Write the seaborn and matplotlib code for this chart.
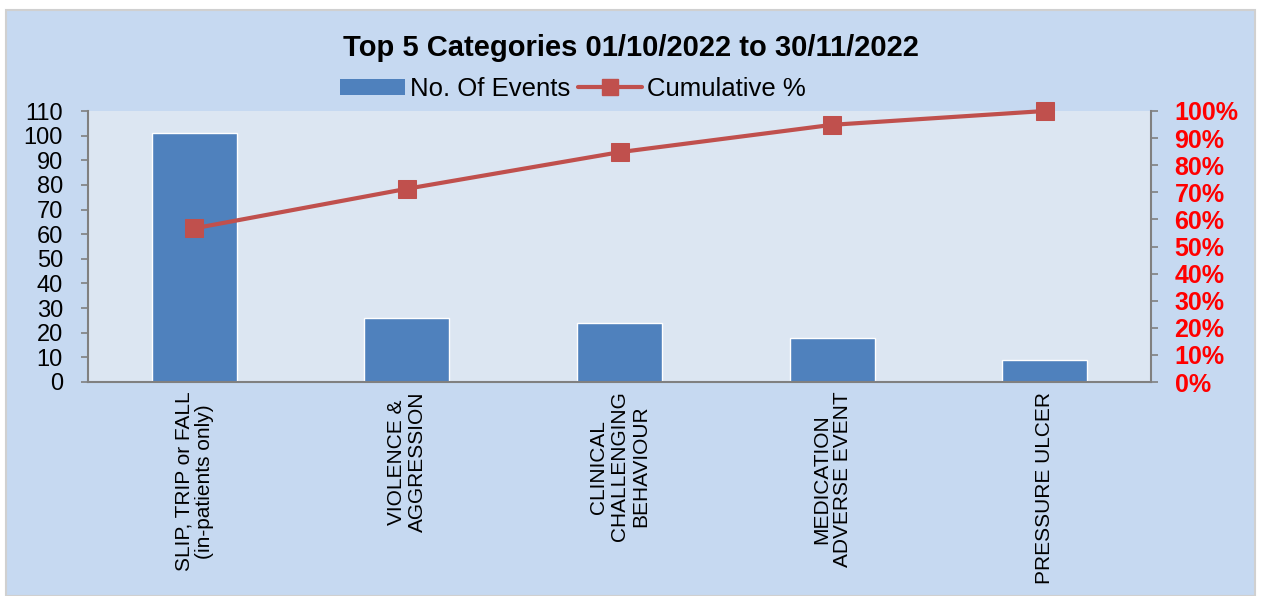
import matplotlib
matplotlib.use("Agg")
import matplotlib.pyplot as plt
import seaborn as sns
import pandas as pd
from matplotlib.patches import Rectangle
from matplotlib.lines import Line2D
from matplotlib.patches import Patch

categories = ["SLIP, TRIP or FALL\n(in-patients only)", "VIOLENCE &\nAGGRESSION",
              "CLINICAL\nCHALLENGING\nBEHAVIOUR", "MEDICATION\nADVERSE EVENT", "PRESSURE ULCER"]
events = [101, 26, 24, 18, 9]
cumulative_pct = [56.7, 71.3, 84.8, 94.9, 100.0]
left_ticks = list(range(0, 111, 10))
right_ticks = list(range(0, 101, 10))
title = "Top 5 Categories 01/10/2022 to 30/11/2022"

sns.set_theme(style="white")
plt.rcParams['font.family'] = ['Liberation Sans', 'DejaVu Sans']
plt.rcParams['text.color'] = 'black'

df = pd.DataFrame({"cat": categories, "events": events, "cum": cumulative_pct})

W, H = 1262, 596
fig = plt.figure(figsize=(W / 100, H / 100), dpi=100)
fig.patch.set_facecolor("white")
fig.patches.append(Rectangle((6 / W, 0), (1255 - 6) / W, (H - 10) / H, transform=fig.transFigure,
                             facecolor="#C6D9F1", edgecolor="#D0D0D0", linewidth=1.5, zorder=-10))

ax = fig.add_axes([88 / W, 1 - 382 / H, (1151 - 88) / W, (382 - 111) / H])
ax.set_facecolor("#DCE6F2")
sns.barplot(data=df, x="cat", y="events", color="#4F81BD", saturation=1, width=0.4, ax=ax, zorder=2)
ax.set_xlim(-0.5, len(categories) - 0.5)
ax.set_ylim(0, 110)
ax.set_yticks(left_ticks)
ax.set_yticklabels([str(t) for t in left_ticks], fontsize=17, color="black")
ax.set_xlabel("")
ax.set_ylabel("")
ax.set_xticks(range(len(categories)))
ax.set_xticklabels(categories, rotation=90, fontsize=15, ha="center", va="top",
                   multialignment="center", color="black", linespacing=1.15)
ax.tick_params(axis="x", length=0, pad=7)
ax.set_xticks([i + 0.5 for i in range(-1, len(categories))], minor=True)
ax.tick_params(axis="x", which="minor", length=5, color="#808080", width=1.2, direction="out")
ax.tick_params(axis="y", length=5, color="#808080", width=1.2, direction="out", pad=13, left=True)
for s in ["top", "right"]:
    ax.spines[s].set_visible(False)
for s in ["left", "bottom"]:
    ax.spines[s].set_color("#808080")
    ax.spines[s].set_linewidth(1.5)

ax2 = ax.twinx()
sns.lineplot(x=list(range(len(categories))), y=cumulative_pct, ax=ax2, color="#C0504D",
             linewidth=3, marker="s", markersize=13, markeredgecolor="#C0504D", zorder=5, clip_on=False)
ax2.set_ylim(0, 100)
ax2.set_yticks(right_ticks)
ax2.set_yticklabels([f"{t}%" for t in right_ticks], fontsize=18, fontweight="bold", color="#FF0000")
ax2.tick_params(axis="y", length=5, color="#808080", width=1.2, direction="out", pad=12, right=True)
for s in ["top", "left", "bottom"]:
    ax2.spines[s].set_visible(False)
ax2.spines["right"].set_color("#808080")
ax2.spines["right"].set_linewidth(1.5)
ax2.set_ylabel("")
ax2.grid(False)
ax.grid(False)

fig.text(631 / W, 1 - 48 / H, title, ha="center", va="center", fontsize=21, fontweight="bold", color="black")

handles = [Patch(facecolor="#4F81BD", edgecolor="none"),
           Line2D([0], [0], color="#C0504D", linewidth=3, marker="s", markersize=12)]
fig.legend(handles, ["No. Of Events", "Cumulative %"], loc="center", bbox_to_anchor=(573 / W, 1 - 89 / H),
           ncol=2, frameon=False, fontsize=18.5, handlelength=2.5, handletextpad=0.2, columnspacing=0.3,
           handleheight=0.6, labelcolor="black")

fig.savefig("out.png", dpi=100, facecolor=fig.get_facecolor())
